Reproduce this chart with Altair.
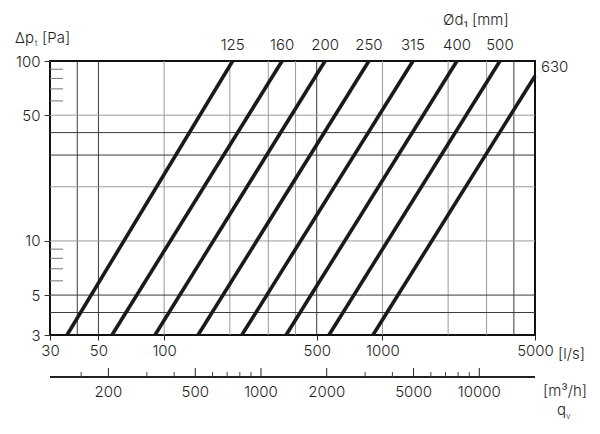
import altair as alt
import pandas as pd

# ---- data ----
diam = ["125", "160", "200", "250", "315", "400", "500", "630"]
q_lo = [35.9, 57.7, 90.8, 143, 227, 362, 569, 905]      # l/s at low end
dp_lo = [3, 3, 3, 3, 3, 3, 3, 3]                         # Pa
q_hi = [206, 347, 546, 867, 1380, 2195, 3454, 5000]     # l/s at high end
dp_hi = [100, 100, 100, 100, 100, 100, 100, 82.6]        # Pa

xgrid_dark = [40, 50, 500, 4000]
xgrid_light = [100, 200, 300, 400, 1000, 2000, 3000]
ygrid_dark = [4, 5, 30, 40]
ygrid_light = [10, 20, 50]
y_minor = [6, 7, 8, 9, 60, 70, 80, 90]
x_ticks = [30, 50, 100, 500, 1000, 5000]
y_ticks = [3, 5, 10, 50, 100]
m3h_major = [200, 500, 1000, 2000, 5000, 10000]
m3h_minor = [150, 300, 400, 600, 700, 800, 900, 3000, 4000, 6000, 7000, 8000, 9000]

FONT = "Inter"
FS = 15
FW = 300
TXT = "#1e1e1e"
W, H = 485, 274

xs = alt.Scale(type="log", domain=[30, 5000], nice=False)
ys = alt.Scale(type="log", domain=[3, 100], nice=False)

lines_df = pd.DataFrame(
    {"d": diam + diam, "q": q_lo + q_hi, "dp": dp_lo + dp_hi}
)
labels_df = pd.DataFrame({"d": diam[:-1], "q": q_hi[:-1]})

XA = alt.Axis(
    values=x_ticks, format="d", title=None, grid=False, domain=False,
    tickSize=5, tickColor="#222", labelPadding=3, labelFont=FONT,
    labelFontSize=FS, labelFontWeight=FW, labelColor=TXT, labelFlush=False,
    labelOverlap=False,
)
YA = alt.Axis(
    values=y_ticks, format="d", title=None, grid=False, domain=False,
    tickSize=6, tickColor="#333", labelPadding=4, labelFont=FONT,
    labelFontSize=FS, labelFontWeight=FW, labelColor=TXT, labelOverlap=False,
)


def X(f):
    return alt.X(f, scale=xs, axis=XA)


def Y(f):
    return alt.Y(f, scale=ys, axis=YA)


vgl = alt.Chart(pd.DataFrame({"q": xgrid_light})).mark_rule(
    color="#9a9a9a", strokeWidth=1
).encode(x=X("q:Q"))
vgd = alt.Chart(pd.DataFrame({"q": xgrid_dark})).mark_rule(
    color="#3a3a3a", strokeWidth=1
).encode(x=X("q:Q"))
hgl = alt.Chart(pd.DataFrame({"dp": ygrid_light})).mark_rule(
    color="#9a9a9a", strokeWidth=1
).encode(y=Y("dp:Q"))
hgd = alt.Chart(pd.DataFrame({"dp": ygrid_dark})).mark_rule(
    color="#3a3a3a", strokeWidth=1
).encode(y=Y("dp:Q"))
ymin = alt.Chart(pd.DataFrame({"dp": y_minor})).mark_rule(
    color="#777777", strokeWidth=1
).encode(y=Y("dp:Q"), x=alt.value(0), x2=alt.value(13))

lines = alt.Chart(lines_df).mark_line(
    color="#1a1a1a", strokeWidth=3.6, strokeCap="butt"
).encode(x=X("q:Q"), y=Y("dp:Q"), detail="d:N")

top_labels = alt.Chart(labels_df).mark_text(
    font=FONT, fontSize=FS, fontWeight=FW, color=TXT, align="center",
    baseline="alphabetic"
).encode(x=X("q:Q"), y=alt.value(-11), text="d:N")


def txt(s, x, y, size=FS, align="left"):
    return alt.Chart(pd.DataFrame({"t": [s]})).mark_text(
        font=FONT, fontSize=size, fontWeight=FW, color=TXT, align=align,
        baseline="alphabetic"
    ).encode(x=alt.value(x), y=alt.value(y), text="t:N")


# secondary m3/h axis
m3_major = alt.Chart(pd.DataFrame({"m": m3h_major})).transform_calculate(
    q="datum.m / 3.6"
)
m3_minor = alt.Chart(pd.DataFrame({"m": m3h_minor})).transform_calculate(
    q="datum.m / 3.6"
)
m3_line = alt.Chart(pd.DataFrame({"a": [0]})).mark_rule(
    color="#222", strokeWidth=2
).encode(x=alt.value(0), x2=alt.value(W), y=alt.value(316))
m3_major_ticks = m3_major.mark_rule(color="#222", strokeWidth=1).encode(
    x=X("q:Q"), y=alt.value(307), y2=alt.value(316)
)
m3_minor_ticks = m3_minor.mark_rule(color="#444", strokeWidth=1).encode(
    x=X("q:Q"), y=alt.value(311), y2=alt.value(316)
)
m3_labels = m3_major.mark_text(
    font=FONT, fontSize=FS, fontWeight=FW, color=TXT, align="center",
    baseline="alphabetic"
).encode(x=X("q:Q"), y=alt.value(336), text="m:N")

chart = alt.layer(
    vgl, vgd, hgl, hgd, ymin, lines, top_labels,
    m3_line, m3_major_ticks, m3_minor_ticks, m3_labels,
    txt("Δp", -35, -18.5),
    txt("t", -15, -15, size=8),
    txt("[Pa]", -8, -18.5),
    txt("Ød₁ [mm]", 393, -36),
    txt("630", 491, 11),
    txt("[l/s]", 508, 298),
    txt("[m³/h]", 493, 335),
    txt("q", 507, 354),
    txt("v", 516, 358, size=8),
).properties(
    width=W, height=H,
    autosize=alt.AutoSizeParams(type="none"),
    padding={"left": 42, "top": 53, "right": 57, "bottom": 90},
).configure_view(stroke="#111111", strokeWidth=2)

chart.save("out.html", embed_options={"renderer": "svg", "actions": False})
